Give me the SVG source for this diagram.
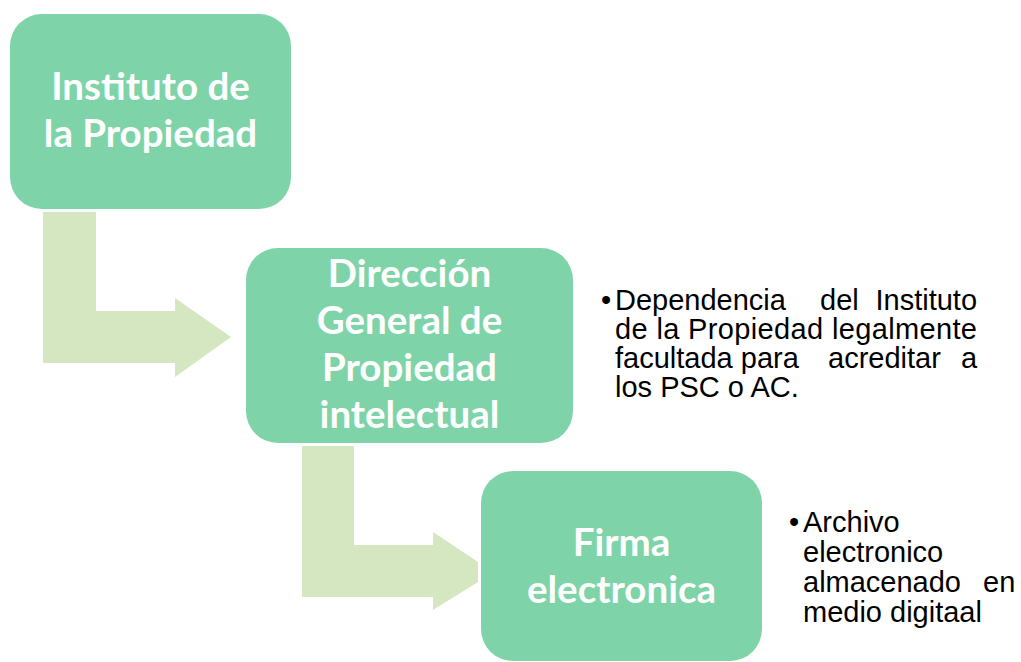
<svg xmlns="http://www.w3.org/2000/svg" width="1021" height="662" viewBox="0 0 1021 662">
<style>
.box{fill:#7ED4A8;}
.arrow{fill:#D5E7C0;}
.bt{font-family:Lato,"Open Sans",sans-serif;font-weight:bold;font-size:38.5px;fill:#ffffff;text-anchor:middle;}
.st{font-family:"Liberation Sans",Arial,sans-serif;fill:#000000;}
</style>
<rect width="1021" height="662" fill="#ffffff"/>
<g id="connectors">
<polygon class="arrow" points="43,212 96,212 96,311 175,311 175,298 231,337 175,377 175,363 43,363"/>
<polygon class="arrow" points="302,446 354,446 354,545 433,545 433,532 478,562 478,582 433,610 433,597 302,597"/>
</g>
<g id="node-instituto">
<rect class="box" x="10" y="14" width="281" height="195" rx="32"/>
<text class="bt" x="150.5" y="100">Instituto de</text>
<text class="bt" x="150.5" y="147">la Propiedad</text>
</g>
<g id="node-direccion">
<rect class="box" x="246" y="248" width="327" height="195" rx="32"/>
<text class="bt" x="409.5" y="287">Dirección</text>
<text class="bt" x="409.5" y="334">General de</text>
<text class="bt" x="409.5" y="381">Propiedad</text>
<text class="bt" x="409.5" y="428">intelectual</text>
</g>
<g id="node-firma">
<rect class="box" x="481" y="471" width="281" height="190" rx="32"/>
<text class="bt" x="621.5" y="556">Firma</text>
<text class="bt" x="621.5" y="603">electronica</text>
</g>
<g id="note-direccion" class="st" font-size="29">
<text x="601" y="310">•</text>
<text y="310"><tspan x="615">Dependencia</tspan><tspan x="820">del</tspan><tspan x="875.5">Instituto</tspan></text>
<text x="615" y="339" textLength="362" lengthAdjust="spacing">de la Propiedad legalmente</text>
<text y="368"><tspan x="615">facultada para</tspan><tspan x="828">acreditar</tspan><tspan x="961">a</tspan></text>
<text x="615" y="397">los PSC o AC.</text>
</g>
<g id="note-firma" class="st" font-size="29">
<text x="789" y="532">•</text>
<text x="803" y="532">Archivo</text>
<text x="803" y="562">electronico</text>
<text y="592"><tspan x="803">almacenado</tspan><tspan x="983">en</tspan></text>
<text x="803" y="622">medio digitaal</text>
</g>
</svg>
